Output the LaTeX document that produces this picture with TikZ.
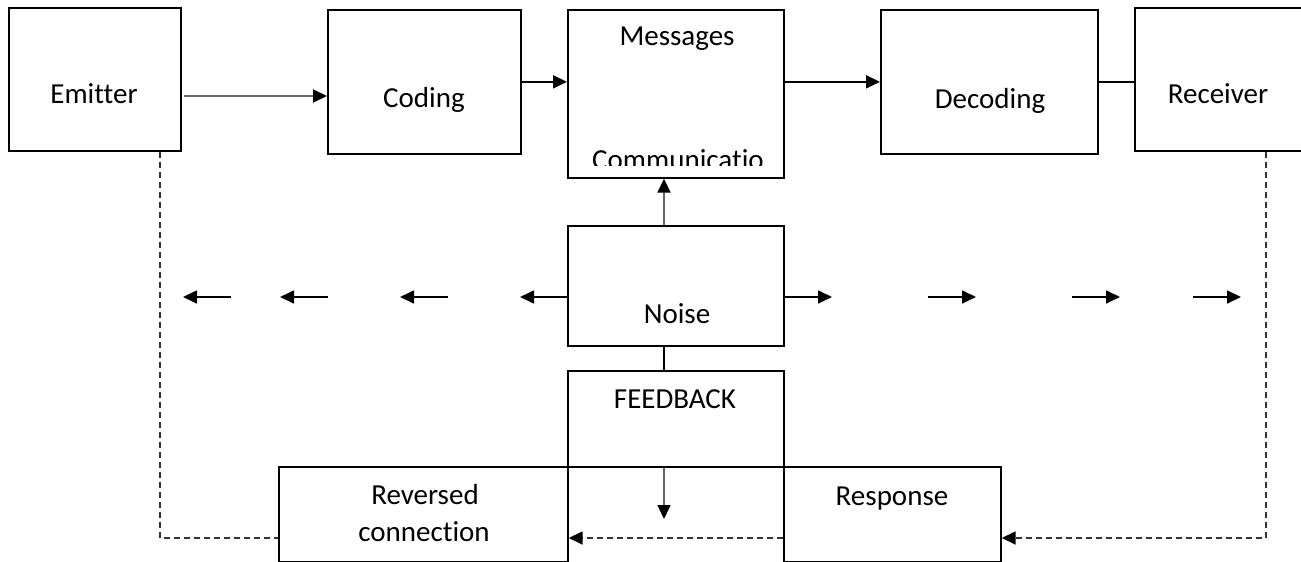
\documentclass[tikz,border=0pt]{standalone}
\usepackage{fontspec}
\setmainfont{Carlito}[Ligatures=NoCommon]
\usetikzlibrary{arrows.meta,calc}
\tikzset{
  box/.style={draw, line width=1.7pt, inner sep=0pt, anchor=north west},
  txt/.style={anchor=base, inner sep=0pt, font=\fontsize{29}{36}\selectfont},
  arr/.style={line width=1.7pt, -{Triangle[length=14pt,width=13pt]}},
  garr/.style={line width=2pt, draw=black!60, -{Triangle[length=14pt,width=13pt,color=black]}},
  dline/.style={line width=1.6pt, draw=black!80, dash pattern=on 6pt off 4pt},
}
\begin{document}
\begin{tikzpicture}[x=1pt,y=-1pt]
\clip (0,0) rectangle (1301,562);
\fill[white] (0,0) rectangle (1301,562);
% boxes
\node[box, minimum width=172pt, minimum height=143pt] (emitter) at (8,7) {};
\node[box, minimum width=193pt, minimum height=144pt] (coding) at (327,9) {};
\node[box, minimum width=216pt, minimum height=168pt] (messages) at (567,9) {};
\node[box, minimum width=217pt, minimum height=144pt] (decoding) at (880,9) {};
\node[box, minimum width=200pt, minimum height=143pt] (receiver) at (1134,7) {};
\node[box, minimum width=216pt, minimum height=120pt] (noise) at (567,225) {};
\node[box, minimum width=216pt, minimum height=96pt] (feedback) at (567,370) {};
\node[box, minimum width=289pt, minimum height=95pt] (reversed) at (278,466) {};
\node[box, minimum width=217pt, minimum height=95pt] (response) at (783,466) {};
% texts
\node[txt] (temitter) at (94,103) {Emitter};
\node[txt] (tcoding) at (424,107) {Coding};
\node[txt] (tmessages) at (677,45) {Messages};
\begin{scope}
\clip (567,9) rectangle (783,165);
\node[txt] (tcomm) at (678,169) {Communicatio};
\end{scope}
\node[txt] (tdecoding) at (990,108) {Decoding};
\node[txt] (treceiver) at (1218,103) {Receiver};
\node[txt] (tnoise) at (677,323) {Noise};
\node[txt] (tfeedback) at (675,408) {FEEDBACK};
\node[txt] (treversed) at (425,504) {Reversed};
\node[txt] (tconnection) at (424,541) {connection};
\node[txt] (tresponse) at (892,505) {Response};
% top connectors
\coordinate (eo) at (184,96);
\draw[garr] (eo) -- (coding.west |- eo);
\draw[arr] (coding.east) -- (messages.west |- coding.east);
\draw[arr] (messages.east |- decoding.west) -- (decoding.west);
\draw[line width=1.7pt] (decoding.east) -- (receiver.west |- decoding.east);
% noise
\coordinate (nx) at (664,0);
\draw[garr] (noise.north -| nx) -- (messages.south -| nx);
\draw[line width=1.7pt] (noise.south -| nx) -- (feedback.north -| nx);
\coordinate (ny) at (0,297);
\coordinate (lend) at (520,297);
\coordinate (rend) at (832,297);
\draw[arr] (noise.west |- ny) -- (lend);
\draw[arr] (noise.east |- ny) -- (rend);
\foreach \a/\b [count=\i] in {183/231, 280/328, 400/448} {
  \coordinate (ls\i) at (\b,297);
  \coordinate (le\i) at (\a,297);
  \draw[arr] (ls\i) -- (le\i);
}
\foreach \a/\b [count=\i] in {928/976, 1072/1120, 1193/1241} {
  \coordinate (rs\i) at (\a,297);
  \coordinate (re\i) at (\b,297);
  \draw[arr] (rs\i) -- (re\i);
}
% feedback down arrow
\coordinate (fd) at (664,519);
\draw[garr, line width=1.5pt] (feedback.south -| fd) -- (fd);
% dashed loops
\coordinate (dl) at (160,538);
\coordinate (dr) at (1266,538);
\draw[dline] (emitter.south -| dl) -- (dl) -- (reversed.west |- dl);
\draw[dline, -{Triangle[length=14pt,width=13pt,color=black]}] (receiver.south -| dr) -- (dr) -- (response.east |- dr);
\draw[dline, -{Triangle[length=14pt,width=13pt,color=black]}] (response.west |- dl) -- (reversed.east |- dl);
\end{tikzpicture}
\end{document}
